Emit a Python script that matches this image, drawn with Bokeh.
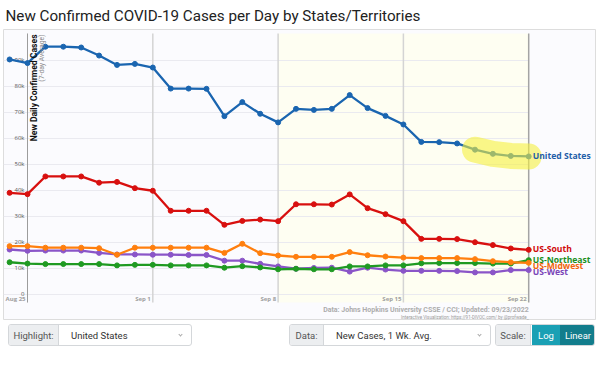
from datetime import datetime, timedelta
from bokeh.plotting import figure
from bokeh.models import Range1d, Label, Div, ColumnDataSource
from bokeh.layouts import column
from bokeh.embed import file_html
from bokeh.resources import INLINE
from bokeh.core.properties import value

# ---------------- data ----------------
dates = [datetime(2022, 8, 24) + timedelta(days=i) for i in range(30)]  # Aug 24 .. Sep 22

us_total = [90400, 89000, 95300, 95300, 95000, 91900, 88300, 88700, 87300, 79200,
            79200, 79100, 68600, 74000, 69500, 66200, 71400, 71000, 71400, 76700,
            71700, 68700, 65400, 58700, 58600, 58100, 55700, 54100, 53300, 53100]
us_south = [39100, 38600, 45400, 45400, 45400, 43000, 43300, 40900, 39900, 32200,
            32200, 32200, 26800, 28300, 28800, 28200, 34700, 34700, 34600, 38500,
            33200, 30900, 28200, 21400, 21400, 21300, 20100, 19000, 17700, 17200]
us_midwest = [18600, 18600, 18000, 18000, 18000, 17800, 15300, 18000, 18000, 18000,
              18000, 18000, 16000, 19500, 15900, 15000, 14500, 14500, 14500, 16300,
              15100, 14600, 14200, 14000, 14000, 14000, 13600, 12800, 12400, 12200]
us_northeast = [12400, 11900, 11700, 11700, 11700, 11700, 11200, 11400, 11400, 11200,
                11200, 11200, 10300, 10900, 10400, 9700, 9900, 9700, 9700, 10800,
                10800, 11200, 11200, 12000, 12100, 12100, 12100, 11900, 11900, 13200]
us_west = [17300, 16800, 16900, 16900, 16900, 16000, 15400, 15400, 15300, 15300,
           15200, 15200, 13000, 13000, 11800, 10800, 9900, 10200, 10300, 8800,
           10300, 9600, 9100, 9100, 9100, 9000, 8500, 8500, 9400, 9400]

series_names = ["US-West", "US-Northeast", "US-Midwest", "US-South", "United States"]
series_values = [us_west, us_northeast, us_midwest, us_south, us_total]
series_colors = ["#8a55c8", "#1f9a22", "#ff7f0e", "#d8100f", "#1a65b0"]
label_colors = ["#7a45b8", "#1a8f1d", "#f0650a", "#d00a0a", "#1f5ea8"]
label_dy = [2, 0, 3.5, -1, 0]

y_ticks = [0, 10000, 20000, 30000, 40000, 50000, 60000, 70000, 80000, 90000]
y_tick_labels = ["0", "10k", "20k", "30k", "40k", "50k", "60k", "70k", "80k", "90k"]
x_ticks = [datetime(2022, 8, 25), datetime(2022, 9, 1), datetime(2022, 9, 8),
           datetime(2022, 9, 15), datetime(2022, 9, 22)]
x_tick_labels = ["Aug 25", "Sep 1", "Sep 8", "Sep 15", "Sep 22"]

# ---------------- layout constants ----------------
px_per_day = 17.9
frame_w = 593
x_start = x_ticks[0] - timedelta(days=24 / px_per_day)
x_end = x_start + timedelta(days=frame_w / px_per_day)
y_start, y_end = -10000, 101923
plot_top = 100400
plot_bottom = -3100

p = figure(frame_width=frame_w, frame_height=291, x_axis_type="datetime",
           x_range=Range1d(x_start, x_end), y_range=Range1d(y_start, y_end),
           x_axis_location=None, y_axis_location=None,
           toolbar_location=None, output_backend="svg",
           min_border_left=3, min_border_right=0, min_border_top=0, min_border_bottom=0,
           title="New Confirmed COVID-19 Cases per Day by States/Territories")
p.title.text_font = "Roboto"
p.title.text_font_size = "15.2px"
p.title.text_font_style = "normal"
p.title.text_color = "#222222"
p.title.standoff = 9
p.title.offset = 2
p.background_fill_color = "#fbfbfe"
p.border_fill_color = "white"
p.outline_line_color = "#dddddd"
p.grid.visible = False

# highlighted last two weeks
p.quad(left=[x_ticks[2]], right=[x_ticks[-1]], bottom=[plot_bottom], top=[plot_top],
       fill_color="#fefef2", line_color=None)

# horizontal grid
p.segment(x0=[x_start] * len(y_ticks), x1=[x_ticks[-1]] * len(y_ticks),
          y0=y_ticks, y1=y_ticks, line_color="#eaeaf0", line_width=1)

# vertical week lines / axis
vcol = ["#9c9c9c", "#d4d4d4", "#d4d4d4", "#d4d4d4", "#a4a4a4"]
vw = [1, 1.5, 1.5, 1.5, 1.5]
p.segment(x0=x_ticks, x1=x_ticks, y0=[plot_bottom] * 5, y1=[plot_top] * 5,
          line_color=vcol, line_width=vw)

# y tick labels
p.text(x=[x_ticks[0]] * len(y_ticks), y=y_ticks, text=y_tick_labels,
       text_font=value("Open Sans"), text_font_size="6px", text_color="#555555",
       text_align="right", text_baseline="middle", x_offset=-3)

# x tick labels
p.text(x=x_ticks, y=[0] * len(x_ticks), text=x_tick_labels,
       text_font=value("Open Sans"), text_font_size="6px", text_font_style="bold",
       text_color="#a0a0a0", text_align="right", text_baseline="top",
       x_offset=-2, y_offset=1)

# y axis title
p.add_layout(Label(x=x_ticks[0], y=plot_top, text="New Daily Confirmed Cases",
                   angle=1.5708, text_align="right", text_baseline="top",
                   text_font="Roboto", text_font_size="8.6px", text_font_style="bold",
                   text_color="#111111", x_offset=1.5, y_offset=-1))
p.add_layout(Label(x=x_ticks[0], y=plot_top, text="(7-day Average)",
                   angle=1.5708, text_align="right", text_baseline="top",
                   text_font="Roboto", text_font_size="6.8px",
                   text_color="#8a8a8a", x_offset=10.5, y_offset=-1))

# series
for name, vals, col in zip(series_names, series_values, series_colors):
    p.line(dates, vals, line_color=col, line_width=2.3)
    p.scatter(dates, vals, size=5, fill_color=col, line_color=col)

# highlight of the latest United States points
p.line(dates[-4:], us_total[-4:], line_color="#f5f040", line_alpha=0.6,
       line_width=26, line_cap="round", line_join="round")

# end labels
lab = ColumnDataSource(dict(x=[dates[-1]] * 5, y=[v[-1] for v in series_values],
                            text=series_names, color=label_colors, dy=label_dy))
p.text(x="x", y="y", text="text", text_color="color", y_offset="dy", source=lab,
       x_offset=4, text_font=value("Open Sans"), text_font_size="8.6px",
       text_font_style="bold", text_align="left", text_baseline="middle")

# source notes
p.add_layout(Label(x=x_ticks[-1], y=-6150,
                   text="Data: Johns Hopkins University CSSE / CCI; Updated: 09/23/2022",
                   text_align="right", text_baseline="middle", text_font="Roboto",
                   text_font_size="7px", text_font_style="bold", text_color="#adadad"))
p.add_layout(Label(x=x_ticks[-1], y=-9000,
                   text="Interactive Visualization: https://91-DIVOC.com/ by @profwade_",
                   text_align="right", text_baseline="middle", text_font="Roboto",
                   text_font_size="4.5px", text_color="#9a9a9a"))

# ---------------- controls row ----------------
chev = ('<div style="position:absolute;right:9px;top:8px;width:3px;height:3px;'
        'border-right:1px solid #aaa;border-bottom:1px solid #aaa;transform:rotate(45deg);"></div>')
box = "position:absolute;top:4px;height:22px;border:1px solid #d4d7da;border-radius:3px;background:#fff;overflow:hidden;"
lbl = "position:absolute;left:0;top:0;height:22px;background:#eceef0;border-right:1px solid #d4d7da;color:#555;line-height:22px;text-align:center;"
controls_html = f"""
<div style="position:relative;width:600px;height:28px;font-family:Roboto,sans-serif;font-size:9.5px;">
 <div style="{box}left:8px;width:184px;">
   <div style="{lbl}width:50px;">Highlight:</div>
   <div style="position:absolute;left:62px;top:0;line-height:22px;color:#333;">United States</div>
   {chev}
 </div>
 <div style="{box}left:289px;width:202px;">
   <div style="{lbl}width:34px;">Data:</div>
   <div style="position:absolute;left:46px;top:0;line-height:22px;color:#333;">New Cases, 1 Wk. Avg.</div>
   {chev}
 </div>
 <div style="{box}left:495px;width:100px;">
   <div style="{lbl}width:35px;">Scale:</div>
   <div style="position:absolute;left:36px;top:0;width:28px;height:22px;background:#1aa0b4;color:#fff;line-height:22px;text-align:center;">Log</div>
   <div style="position:absolute;left:64px;top:0;width:36px;height:22px;background:#127d8c;color:#fff;line-height:22px;text-align:center;">Linear</div>
 </div>
</div>
"""
controls = Div(text=controls_html, width=600, height=28, margin=0)

layout = column(p, controls, spacing=0)
open("out.html", "w").write(file_html(layout, INLINE))
